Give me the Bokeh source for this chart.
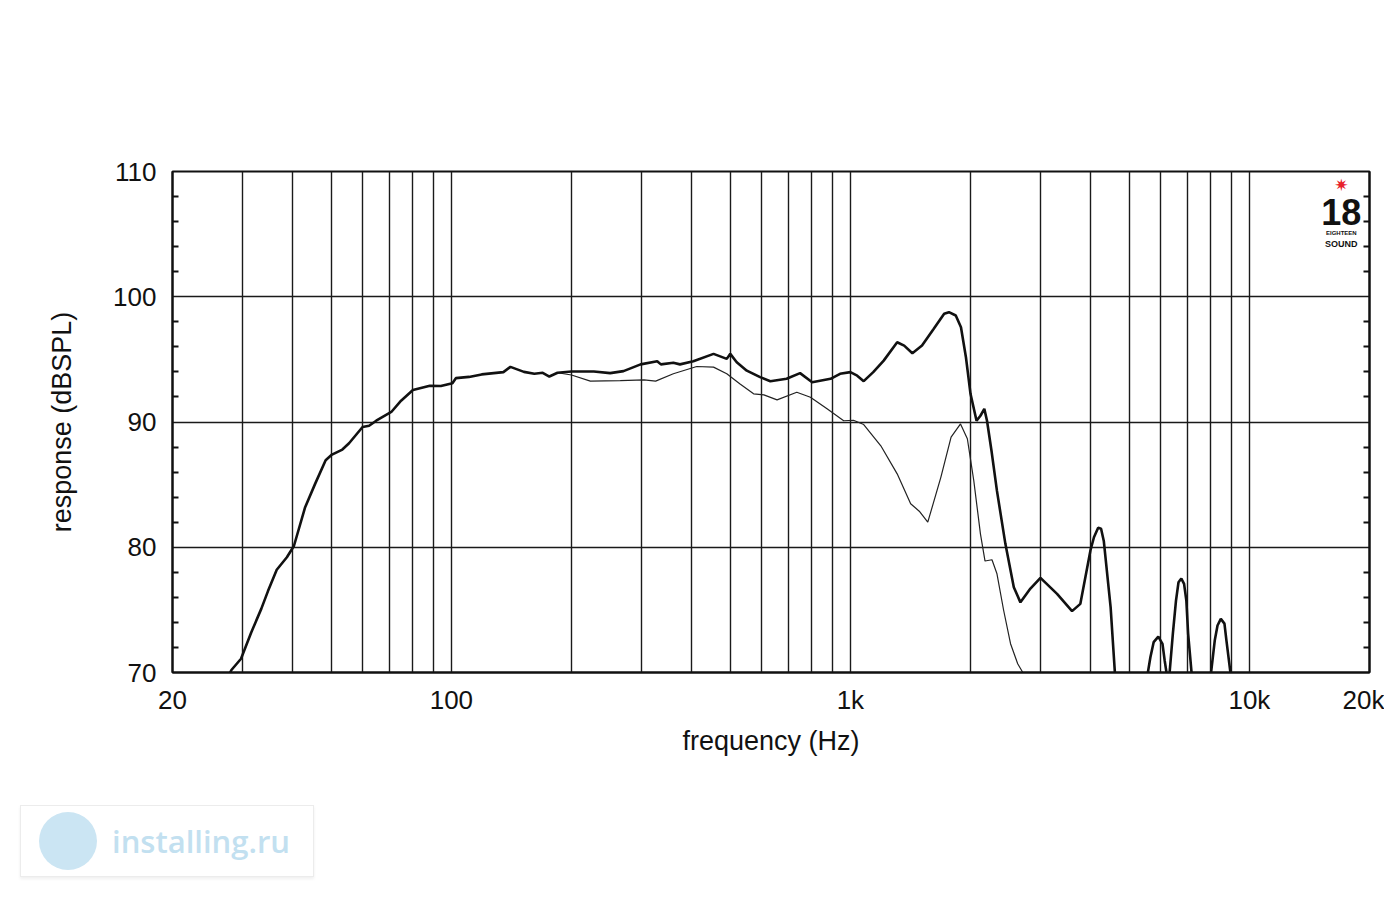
from bokeh.plotting import figure
from bokeh.layouts import column
from bokeh.models import FixedTicker, LinearAxis, Range1d, Label, Div
from bokeh.embed import file_html
from bokeh.resources import INLINE

# ---------------- data ----------------
# on-axis response (thick), main segment
freq_on = [27.5, 28.1, 29.7, 31.5, 33.4, 34.7, 36.5, 38.7, 40.3, 43.0, 45.6, 48.4,
           50.2, 53.3, 55.4, 59.9, 62.2, 64.8, 70.7, 74.8, 80.1, 88.3, 94.1, 100.6,
           102.6, 110.7, 119.1, 135, 140.6, 152, 161.4, 169.4, 176, 184.5, 200, 227.5,
           250, 270, 298, 328, 335, 360, 374, 404, 454, 490, 500, 519, 550, 594, 630,
           692, 748, 802, 892, 942, 1000, 1040, 1080, 1141, 1212, 1310, 1364, 1430,
           1512, 1618, 1718, 1766, 1837, 1893, 1948, 2000, 2071, 2118, 2166, 2200,
           2260, 2330, 2446, 2568, 2668, 2826, 2995, 3296, 3594, 3770, 3996, 4078,
           4178, 4249, 4316, 4490, 4610]
spl_on = [69.6, 70.2, 71.1, 73.2, 75.1, 76.5, 78.2, 79.2, 80.1, 83.2, 85.1, 86.95,
          87.4, 87.8, 88.3, 89.6, 89.7, 90.1, 90.8, 91.7, 92.55, 92.9, 92.87, 93.1,
          93.5, 93.6, 93.8, 93.98, 94.4, 94.0, 93.85, 93.93, 93.63, 93.93, 94.03, 94.03,
          93.9, 94.06, 94.6, 94.85, 94.6, 94.73, 94.6, 94.85, 95.44, 95.04, 95.44, 94.77,
          94.1, 93.58, 93.26, 93.45, 93.9, 93.18, 93.45, 93.85, 93.98, 93.7, 93.26,
          93.98, 94.9, 96.37, 96.1, 95.49, 96.1, 97.44, 98.64, 98.77, 98.5, 97.57,
          95.17, 92.25, 90.1, 90.5, 91.05, 90.1, 87.6, 84.5, 80.27, 76.8, 75.6, 76.7,
          77.56, 76.28, 74.9, 75.48, 79.74, 80.8, 81.55, 81.47, 80.5, 75.2, 69.6]

# on-axis response, high-frequency lobes that rise above 70 dB
freq_lobe1 = [5540, 5648, 5755, 5912, 6056, 6133, 6225]
spl_lobe1 = [69.6, 71.22, 72.42, 72.87, 72.29, 70.96, 69.6]
freq_lobe2 = [6295, 6430, 6548, 6642, 6752, 6860, 6950, 7022, 7180]
spl_lobe2 = [69.6, 73.1, 75.75, 77.2, 77.5, 77.07, 75.75, 73.1, 69.6]
freq_lobe3 = [7990, 8188, 8320, 8480, 8660, 8760, 8995]
spl_lobe3 = [69.6, 72.55, 73.75, 74.28, 73.9, 72.55, 69.6]

# off-axis response (thin)
freq_off = [184.5, 200, 223, 265, 304, 325, 360, 412, 454, 490, 528, 572, 607, 655,
            734, 794, 874, 962, 1018, 1080, 1192, 1310, 1416, 1488, 1563, 1686, 1788,
            1888, 1964, 2038, 2118, 2175, 2264, 2330, 2422, 2520, 2626, 2705, 2760]
spl_off = [93.93, 93.75, 93.26, 93.3, 93.37, 93.26, 93.85, 94.43, 94.38, 93.85, 93.05,
           92.25, 92.17, 91.77, 92.38, 91.98, 91.05, 90.1, 90.14, 89.8, 88.1, 85.86,
           83.47, 82.88, 82.0, 85.6, 88.8, 89.85, 88.66, 85.33, 81.07, 78.9, 79.0, 77.88,
           74.95, 72.3, 70.7, 70.0, 69.6]

x_tick_values = [20, 100, 1000, 10000, 20000]
x_tick_labels = ["20", "100", "1k", "10k", "20k"]
x_grid_values = [30, 40, 50, 60, 70, 80, 90, 100, 200, 300, 400, 500, 600, 700, 800,
                 900, 1000, 2000, 3000, 4000, 5000, 6000, 7000, 8000, 9000, 10000]
y_tick_values = [70, 80, 90, 100, 110]
y_minor_values = [72, 74, 76, 78, 82, 84, 86, 88, 92, 94, 96, 98, 102, 104, 106, 108]
y_grid_values = [80, 90, 100]

FONT = "Liberation Sans"
INK = "#111111"

p = figure(width=1384, height=790, x_axis_type="log",
           x_range=Range1d(20, 20000), y_range=Range1d(70, 110),
           output_backend="svg", toolbar_location=None,
           min_border_left=172, min_border_right=15,
           min_border_top=171, min_border_bottom=118,
           background_fill_color="white", border_fill_color="white")
p.outline_line_color = INK
p.outline_line_width = 2

# x axis
xa = p.xaxis[0]
xa.ticker = FixedTicker(ticks=x_tick_values)
xa.major_label_overrides = {v: s for v, s in zip(x_tick_values, x_tick_labels)}
xa.axis_label = "frequency (Hz)"
xa.major_tick_in = 0
xa.major_tick_out = 0
xa.minor_tick_in = 0
xa.minor_tick_out = 0
xa.axis_line_color = INK
xa.axis_line_width = 2
xa.major_label_standoff = 12
xa.axis_label_standoff = 8

# y axis (left)
ya = p.yaxis[0]
ya.ticker = FixedTicker(ticks=y_tick_values, minor_ticks=y_minor_values)
ya.axis_label = "response (dBSPL)"
ya.major_tick_in = 0
ya.major_tick_out = 0
ya.minor_tick_in = 6
ya.minor_tick_out = 0
ya.minor_tick_line_width = 2
ya.minor_tick_line_color = INK
ya.axis_line_color = INK
ya.axis_line_width = 2
ya.major_label_standoff = 16
ya.axis_label_standoff = 33

# y axis (right): minor ticks only, no labels
yr = LinearAxis(ticker=FixedTicker(ticks=[], minor_ticks=y_minor_values))
yr.major_tick_in = 0
yr.major_tick_out = 0
yr.minor_tick_in = 6
yr.minor_tick_out = 0
yr.minor_tick_line_width = 2
yr.minor_tick_line_color = INK
yr.axis_line_color = INK
yr.axis_line_width = 2
yr.major_label_standoff = 0
p.add_layout(yr, "right")

for ax in (xa, ya):
    ax.major_label_text_font = FONT
    ax.major_label_text_font_size = "26px"
    ax.major_label_text_color = INK
    ax.axis_label_text_font = FONT
    ax.axis_label_text_font_size = "27px"
    ax.axis_label_text_font_style = "normal"
    ax.axis_label_text_color = INK

# grids
p.xgrid.ticker = FixedTicker(ticks=x_grid_values)
p.ygrid.ticker = FixedTicker(ticks=y_grid_values)
for g in (p.xgrid, p.ygrid):
    g.grid_line_color = "#1a1a1a"
    g.grid_line_width = 1.4
    g.grid_line_alpha = 1.0

# curves
p.line(freq_off, spl_off, line_color="#222222", line_width=1.2)
p.line(freq_on, spl_on, line_color=INK, line_width=2.6)
for fx, sy in ((freq_lobe1, spl_lobe1), (freq_lobe2, spl_lobe2), (freq_lobe3, spl_lobe3)):
    p.line(fx, sy, line_color=INK, line_width=2.6)

# "18 sound" logo (top right, inside the frame)
p.add_layout(Label(x=17000, y=108.95, text="✷", text_color="#e8202a",
                   text_font="DejaVu Sans", text_font_size="17px",
                   text_align="center", text_baseline="middle"))
p.add_layout(Label(x=17000, y=106.75, text="18", text_color=INK,
                   text_font=FONT, text_font_style="bold",
                   text_font_size="36px", text_align="center", text_baseline="middle"))
p.add_layout(Label(x=17000, y=105.05, text="EIGHTEEN", text_color=INK,
                   text_font=FONT, text_font_size="6px", text_font_style="bold",
                   text_align="center", text_baseline="middle"))
p.add_layout(Label(x=17000, y=104.2, text="SOUND", text_color=INK,
                   text_font=FONT, text_font_size="9px", text_font_style="bold",
                   text_align="center", text_baseline="middle"))

# watermark below the chart (installing.ru)
wm = Div(width=400, height=94, text=(
    '<div style="margin-left:15px;margin-top:10px;width:294px;height:72px;'
    'border:1px solid #ececec;box-shadow:0 2px 3px #f0f0f0;display:flex;'
    'align-items:center;background:#ffffff;">'
    '<div style="width:58px;height:58px;border-radius:50%;background:#cbe5f3;'
    'margin-left:18px;flex:none;"></div>'
    '<span style="font-family:\'Open Sans\';font-weight:600;font-size:31px;'
    'color:#c2e0f0;margin-left:15px;white-space:nowrap;">installing.ru</span>'
    '</div>'))

layout = column(p, wm, spacing=0)
open("out.html", "w").write(file_html(layout, INLINE))
